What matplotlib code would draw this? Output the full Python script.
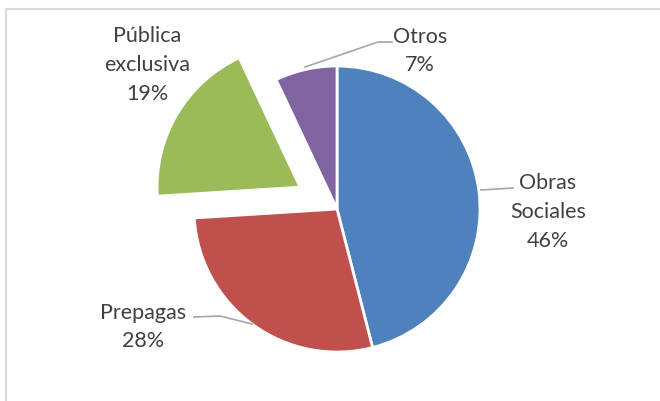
import matplotlib.pyplot as plt
from matplotlib.patches import Rectangle

# Data
labels = ['Obras\nSociales', 'Prepagas', 'Pública\nexclusiva', 'Otros']
percents = [46, 28, 19, 7]
colors = ['#4F81BD', '#C0504D', '#9BBB59', '#8064A2']
explode = [0, 0, 0.3, 0]

W, H = 660, 402
CX, CY, R = 337, 210, 143  # pie centre and radius in pixels


def px(x, y):
    # pixel position (from top-left) -> data units
    return (x - CX) / R, (CY - y) / R


fig = plt.figure(figsize=(W / 100, H / 100), dpi=100)
ax = fig.add_axes([0, 0, 1, 1])

ax.pie(percents, colors=colors, startangle=90, counterclock=False,
       explode=explode, radius=1,
       wedgeprops=dict(edgecolor='white', linewidth=2))

x0, y0 = px(0, H)
x1, y1 = px(W, 0)
ax.set_xlim(x0, x1)
ax.set_ylim(y0, y1)
ax.set_aspect('auto')
ax.axis('off')

# label positions (text centre) and leader lines, in pixels
label_pos = [(548, 212), (143, 327), (147, 65), (420, 51)]
leaders = [
    [(481, 191), (513, 189)],
    [(252, 325), (220, 317), (194, 318)],
    None,
    [(305, 68), (378, 43), (392, 43)],
]

txt = dict(fontsize=15.5, color='#404040', family='Lato', ha='center',
           va='center', linespacing=1.55)
for lab, pct, pos, ld in zip(labels, percents, label_pos, leaders):
    tx, ty = px(*pos)
    ax.text(tx, ty, f'{lab}\n{pct}%', **txt)
    if ld:
        pts = [px(*p) for p in ld]
        ax.plot([p[0] for p in pts], [p[1] for p in pts],
                color='#a6a6a6', lw=1.2)

# chart frame (only top and left edges visible)
fig.patches.append(Rectangle((6 / W, -0.1), 1.2, (H - 10) / H + 0.1,
                             transform=fig.transFigure, fill=False,
                             edgecolor='#d9d9d9', lw=1.5))

plt.savefig('out.png', dpi=100)
